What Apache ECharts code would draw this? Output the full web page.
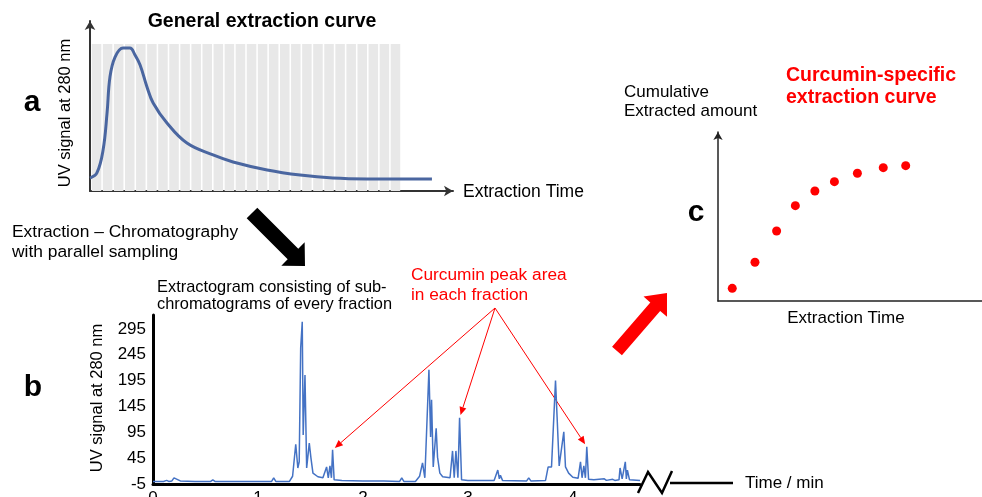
<!DOCTYPE html>
<html>
<head>
<meta charset="utf-8">
<script src="https://cdn.jsdelivr.net/npm/echarts@6/dist/echarts.min.js"></script>
<style>
html, body { margin: 0; padding: 0; background: #fff; }
#main { width: 982px; height: 497px; }
</style>
</head>
<body>
<div id="main"></div>
<script>
var FONT = '"Liberation Sans", Arial, sans-serif';

// a: general extraction curve (normalised time / signal)
var extractTime   = [0, 1.9, 3.6, 4.7, 5.5, 6.9, 9.1, 11.0, 12.4, 13.8, 15.7, 17.4, 21.2, 26.7, 33.9, 39.4, 48.8, 57.9, 66.9, 76.3, 94.2];
var extractSignal = [7.6, 10.6, 24.1, 45.9, 67.1, 78.8, 84.1, 84.1, 80.0, 74.1, 61.2, 51.8, 40.0, 28.2, 21.2, 17.1, 12.4, 9.4, 7.6, 7.1, 7.1];
// fractions collected in parallel (grey stripes)
var fractions = [1, 1, 1, 1, 1, 1, 1, 1, 1, 1, 1, 1, 1, 1, 1, 1, 1, 1, 1, 1, 1, 1, 1, 1, 1, 1, 1, 1];

// b: extractogram, time in min, UV signal
var chromTime = [0, 0.10, 0.13, 0.15, 0.18, 0.20, 0.22, 0.26, 0.40, 0.55, 0.57, 0.59, 1.00, 1.13, 1.15, 1.17,
  1.30, 1.33, 1.36, 1.38, 1.393, 1.407, 1.422, 1.431, 1.448, 1.464, 1.489, 1.505, 1.524, 1.571, 1.619, 1.654, 1.67, 1.686, 1.70, 1.711, 1.726,
  1.80, 2.00, 2.20, 2.35, 2.37, 2.39, 2.50, 2.54, 2.568, 2.59, 2.629, 2.645, 2.654, 2.67, 2.698, 2.711, 2.733, 2.76, 2.83,
  2.854, 2.87, 2.886, 2.905, 2.921, 2.94, 3.00, 3.15, 3.16, 3.18, 3.22, 3.23, 3.25, 3.285, 3.30, 3.31, 3.33, 3.56, 3.58, 3.60,
  3.74, 3.765, 3.797, 3.835, 3.85, 3.87, 3.914, 3.93, 3.96, 4.00, 4.05, 4.073, 4.088, 4.105, 4.12, 4.133, 4.15, 4.20, 4.30, 4.32,
  4.38, 4.40, 4.44, 4.45, 4.47, 4.50, 4.51, 4.52, 4.54, 4.64];
var chromSignal = [0, 0, 2, 0, 1, 7, 5, 1, 0, 0, 3, 0, 0, 0, 7, 0,
  0, 10, 72, 26, 38, 258, 309, 90, 206, 26, 74, 45, 16, 9, 7, 28, 7, 30, 7, 61, 3,
  2, 1, 1, 0, 7, 0, 0, 10, 36, 7, 216, 86, 158, 28, 103, 47, 16, 9, 7,
  59, 7, 59, 7, 123, 3, 2, 2, 5, 2, 2, 5, 2, 22, 5, 12, 2, 1, 7, 1,
  2, 28, 28, 195, 125, 30, 96, 28, 16, 8, 6, 38, 7, 30, 7, 67, 4, 3, 5, 2,
  4, 2, 3, 26, 5, 38, 5, 22, 3, 2];
var curcuminPeaks = [[1.711, 61], [2.921, 123], [4.133, 67]];

// c: cumulative curcumin amount per fraction (normalised)
var cumTime   = [5.4, 14.0, 22.2, 29.3, 36.7, 44.1, 52.8, 62.6, 71.1];
var cumAmount = [7.5, 22.9, 41.4, 56.4, 65.1, 70.6, 75.6, 78.9, 80.1];

function pairs(xs, ys) {
  var out = [];
  for (var i = 0; i < xs.length; i++) out.push([xs[i], ys[i]]);
  return out;
}

function arrowPts(x1, y1, x2, y2, sw, hw, hl) {
  var dx = x2 - x1, dy = y2 - y1, L = Math.sqrt(dx * dx + dy * dy);
  var ux = dx / L, uy = dy / L, nx = -uy, ny = ux;
  var bx = x2 - ux * hl, by = y2 - uy * hl;
  return [
    [x1 + nx * sw / 2, y1 + ny * sw / 2],
    [bx + nx * sw / 2, by + ny * sw / 2],
    [bx + nx * hw / 2, by + ny * hw / 2],
    [x2, y2],
    [bx - nx * hw / 2, by - ny * hw / 2],
    [bx - nx * sw / 2, by - ny * sw / 2],
    [x1 - nx * sw / 2, y1 - ny * sw / 2]
  ];
}

function txt(str, x, y, font, color, align, extra) {
  var g = {
    type: 'text', x: x, y: y, silent: true,
    style: { text: str, font: font, fill: color || '#000', textAlign: align || 'left', textVerticalAlign: 'middle' }
  };
  if (extra) for (var k in extra) g.style[k] = extra[k];
  return g;
}

var myChart = echarts.init(document.getElementById('main'));

var noAxis = { show: false };
var option = {
  animation: false,
  backgroundColor: '#fff',
  grid: [
    { left: 90, top: 21, width: 363, height: 170, outerBoundsMode: 'none' },
    { left: 91, top: 44, width: 310, height: 147, outerBoundsMode: 'none' },
    { left: 153, top: 315, width: 487, height: 169, outerBoundsMode: 'none' },
    { left: 718, top: 132, width: 264, height: 169, outerBoundsMode: 'none' }
  ],
  xAxis: [
    { gridIndex: 0, type: 'value', min: 0, max: 100,
      axisLine: { show: true, onZero: false, symbol: ['none', 'arrow'], symbolSize: [8, 9], lineStyle: { color: '#333', width: 2 } },
      axisTick: noAxis, axisLabel: noAxis, splitLine: noAxis },
    { gridIndex: 1, type: 'category', data: fractions.map(function (v, i) { return i + 1; }), show: false },
    { gridIndex: 2, type: 'value', min: 0, max: 4.64, interval: 1,
      axisLine: { show: true, onZero: false, lineStyle: { color: '#000', width: 3 } },
      axisTick: noAxis, splitLine: noAxis,
      axisLabel: { color: '#000', fontSize: 17, fontFamily: FONT, margin: 6, showMaxLabel: false } },
    { gridIndex: 3, type: 'value', min: 0, max: 100,
      axisLine: { show: true, onZero: false, lineStyle: { color: '#222', width: 1.5 } },
      axisTick: noAxis, axisLabel: noAxis, splitLine: noAxis }
  ],
  yAxis: [
    { gridIndex: 0, type: 'value', min: 0, max: 100,
      axisLine: { show: true, onZero: false, symbol: ['none', 'arrow'], symbolSize: [8, 9], lineStyle: { color: '#333', width: 2 } },
      axisTick: noAxis, axisLabel: noAxis, splitLine: noAxis },
    { gridIndex: 1, type: 'value', min: 0, max: 1, show: false },
    { gridIndex: 2, type: 'value', min: -5, max: 322, interval: 50,
      axisLine: { show: true, onZero: false, lineStyle: { color: '#000', width: 3 } },
      axisTick: noAxis, splitLine: noAxis,
      axisLabel: { color: '#000', fontSize: 17, fontFamily: FONT, margin: 7, showMaxLabel: false } },
    { gridIndex: 3, type: 'value', min: 0, max: 100,
      axisLine: { show: true, onZero: false, symbol: ['none', 'arrow'], symbolSize: [7, 8], lineStyle: { color: '#222', width: 1.5 } },
      axisTick: noAxis, axisLabel: noAxis, splitLine: noAxis }
  ],
  series: [
    { type: 'bar', xAxisIndex: 1, yAxisIndex: 1, data: fractions, barCategoryGap: '14%',
      itemStyle: { color: '#e8e8e8' }, silent: true },
    { type: 'line', xAxisIndex: 0, yAxisIndex: 0, data: pairs(extractTime, extractSignal),
      smooth: 0.4, symbol: 'none', lineStyle: { color: '#4a66a0', width: 3 } },
    { type: 'line', xAxisIndex: 2, yAxisIndex: 2, data: pairs(chromTime, chromSignal),
      symbol: 'none', lineStyle: { color: '#4472c4', width: 1.5 } },
    { type: 'scatter', xAxisIndex: 3, yAxisIndex: 3, data: pairs(cumTime, cumAmount),
      symbolSize: 9, itemStyle: { color: '#ff0000', opacity: 1 } }
  ]
};
myChart.setOption(option);

// annotations
var red = '#ff0000';
var graphics = [
  txt('General extraction curve', 262, 22, 'bold 19.5px ' + FONT, '#000', 'center'),
  txt('a', 32, 103, 'bold 30px ' + FONT, '#000', 'center'),
  { type: 'text', x: 65, y: 113, rotation: Math.PI / 2, silent: true,
    style: { text: 'UV signal at 280 nm', font: '16.5px ' + FONT, fill: '#000', textAlign: 'center', textVerticalAlign: 'middle' } },
  txt('Extraction Time', 463, 192, '17.5px ' + FONT, '#000', 'left'),
  txt('Extraction \u2013 Chromatography\nwith parallel sampling', 12, 242, '17.4px ' + FONT, '#000', 'left', { lineHeight: 20 }),
  { type: 'polygon', silent: true, shape: { points: arrowPts(252, 213, 305, 266, 15, 33, 17) }, style: { fill: '#000' } },
  txt('Extractogram consisting of sub-\nchromatograms of every fraction', 157, 296, '16.4px ' + FONT, '#000', 'left', { lineHeight: 17 }),
  txt('Curcumin peak area\nin each fraction', 411, 285, '17.3px ' + FONT, red, 'left', { lineHeight: 20 }),
  txt('b', 33, 388, 'bold 30px ' + FONT, '#000', 'center'),
  { type: 'text', x: 97, y: 398, rotation: Math.PI / 2, silent: true,
    style: { text: 'UV signal at 280 nm', font: '16.5px ' + FONT, fill: '#000', textAlign: 'center', textVerticalAlign: 'middle' } },
  { type: 'polyline', silent: true, shape: { points: [[638, 493], [648, 472], [662, 493], [672, 471]] },
    style: { stroke: '#000', lineWidth: 2.5, fill: null } },
  { type: 'line', silent: true, shape: { x1: 670, y1: 483, x2: 733, y2: 483 }, style: { stroke: '#000', lineWidth: 2.5 } },
  txt('Time / min', 745, 483, '17px ' + FONT, '#000', 'left'),
  { type: 'polygon', silent: true, shape: { points: arrowPts(617, 351, 667, 293, 13, 31, 18) }, style: { fill: red } },
  txt('Cumulative\nExtracted amount', 624, 102, '17px ' + FONT, '#000', 'left', { lineHeight: 19 }),
  txt('Curcumin-specific\nextraction curve', 786, 87, 'bold 19.5px ' + FONT, red, 'left', { lineHeight: 22 }),
  txt('c', 696, 213, 'bold 30px ' + FONT, '#000', 'center'),
  txt('Extraction Time', 846, 318, '17px ' + FONT, '#000', 'center')
];

// thin red arrows pointing at the curcumin peaks
var sx = 495, sy = 308;
curcuminPeaks.forEach(function (p) {
  var px = myChart.convertToPixel({ gridIndex: 2 }, p);
  var dx = px[0] - sx, dy = px[1] - sy, L = Math.sqrt(dx * dx + dy * dy);
  var tx = px[0] - dx / L * 3, ty = px[1] - dy / L * 3;
  var ux = dx / L, uy = dy / L;
  var bx = tx - ux * 8, by = ty - uy * 8;
  graphics.push({ type: 'line', silent: true, shape: { x1: sx, y1: sy, x2: bx, y2: by }, style: { stroke: red, lineWidth: 1 } });
  graphics.push({ type: 'polygon', silent: true,
    shape: { points: [[tx, ty], [bx - uy * 3.5, by + ux * 3.5], [bx + uy * 3.5, by - ux * 3.5]] },
    style: { fill: red } });
});

myChart.setOption({ graphic: graphics });
</script>
</body>
</html>
